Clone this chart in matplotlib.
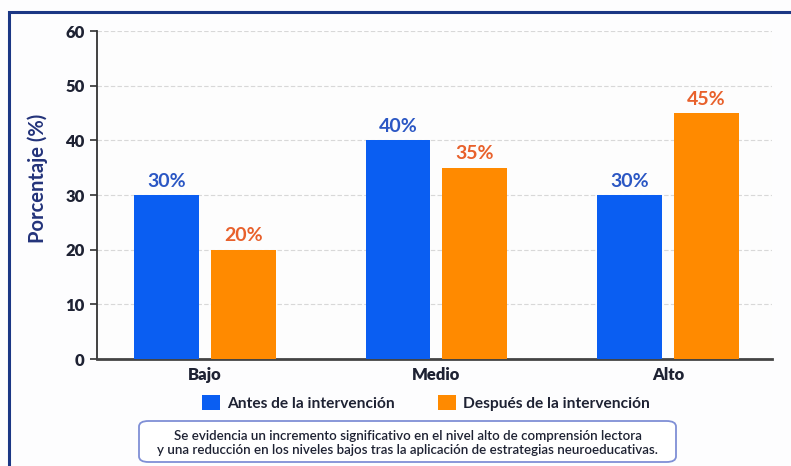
import matplotlib
matplotlib.use("Agg")
import matplotlib.pyplot as plt
from matplotlib.patches import Rectangle, FancyBboxPatch
import numpy as np

plt.rcParams['font.family'] = ['Lato', 'DejaVu Sans']

niveles = ['Bajo', 'Medio', 'Alto']
antes = [30, 40, 30]
despues = [20, 35, 45]
yticks = [0, 10, 20, 30, 40, 50, 60]
serie_labels = ['Antes de la intervención', 'Después de la intervención']
nota = ('Se evidencia un incremento significativo en el nivel alto de comprensión lectora\n'
        'y una reducción en los niveles bajos tras la aplicación de estrategias neuroeducativas.')

azul = '#0a5ef2'
naranja = '#ff8a00'
azul_txt = '#2b57c4'
naranja_txt = '#e8612c'
texto = '#1e2233'

fig = plt.figure(figsize=(7.91, 4.66), dpi=100)
fig.patch.set_facecolor('#fdfdfe')

# marco exterior
fig.patches.append(Rectangle((8.5 / 791, -0.05), 1.2, 1 - 11.5 / 466 + 0.05,
                             transform=fig.transFigure, fill=False,
                             edgecolor='#1b3785', linewidth=2.2, zorder=0))

ax = fig.add_axes([97 / 791, 1 - 359 / 466, (772 - 97) / 791, (359 - 31) / 466])
ax.set_zorder(2)
ax.set_facecolor('#fdfdfd')

x = np.arange(len(niveles))
w = 0.28
off = 0.166
b1 = ax.bar(x - off, antes, w, color=azul, zorder=3)
b2 = ax.bar(x + off, despues, w, color=naranja, zorder=3)

for xi, v in zip(x - off, antes):
    ax.text(xi, v + 1.0, f'{v}%', ha='center', va='bottom', color=azul_txt,
            fontsize=14, fontweight='bold')
for xi, v in zip(x + off, despues):
    ax.text(xi, v + 1.0, f'{v}%', ha='center', va='bottom', color=naranja_txt,
            fontsize=14, fontweight='bold')

ax.set_ylim(0, 60)
ax.set_xlim(-0.465, 2.448)
ax.set_yticks(yticks)
ax.set_xticks(x)
ax.set_xticklabels(niveles)
ax.tick_params(axis='y', length=5, width=1.2, color='#333333', labelsize=12,
               labelcolor=texto, pad=4)
ax.tick_params(axis='x', length=0, labelsize=12, labelcolor=texto, pad=6)
for lbl in ax.get_yticklabels() + ax.get_xticklabels():
    lbl.set_fontweight('heavy')

ax.grid(axis='y', color='#d8d8d8', linestyle=(0, (4, 2)), linewidth=0.8, zorder=0)
for s in ['top', 'right']:
    ax.spines[s].set_visible(False)
ax.spines['left'].set_color('#333333')
ax.spines['left'].set_linewidth(1.3)
ax.spines['bottom'].set_color('#444444')
ax.spines['bottom'].set_linewidth(2)

ax.set_ylabel('Porcentaje (%)', fontsize=14.5, fontweight='bold', color='#23337a')
ax.yaxis.set_label_coords(-0.072, 0.55)

leg = fig.legend([b1, b2], serie_labels, loc='center', bbox_to_anchor=(426 / 791, 1 - 403 / 466),
                 ncol=2, frameon=False, fontsize=11.2, handlelength=1.15, handleheight=1.15,
                 columnspacing=2.8, handletextpad=0.45)
for t in leg.get_texts():
    t.set_color(texto)
    t.set_fontweight('bold')

# recuadro de la nota
bx0, by0, bx1, by1 = 139 / 791, 1 - 462 / 466, 676 / 791, 1 - 421 / 466
fig.patches.append(FancyBboxPatch((bx0, by0), bx1 - bx0, by1 - by0,
                                  boxstyle='round,pad=0,rounding_size=0.012',
                                  transform=fig.transFigure, facecolor='white',
                                  edgecolor='#7f8fd6', linewidth=1.3, zorder=1))
fig.text((bx0 + bx1) / 2, (by0 + by1) / 2 - 0.004, nota, ha='center', va='center',
         fontsize=9.6, color=texto, linespacing=1.2, fontweight='semibold')

fig.savefig('out.png', dpi=100)
